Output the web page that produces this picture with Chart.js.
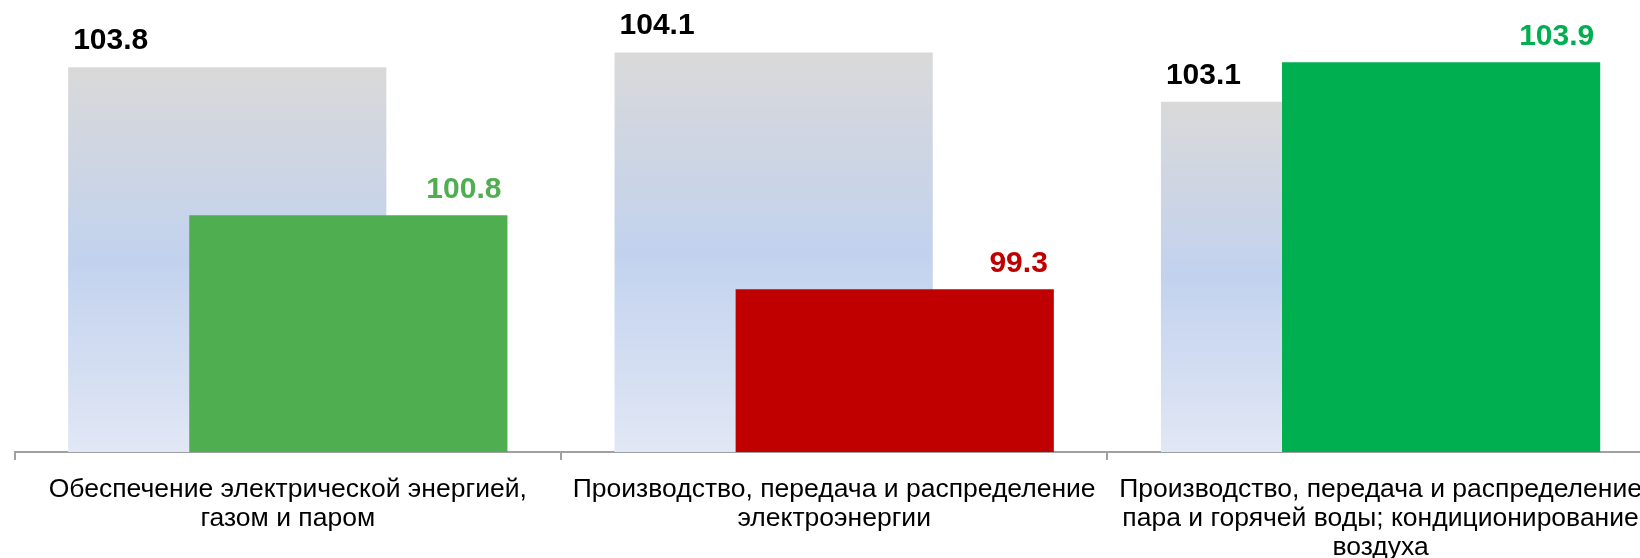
<!DOCTYPE html>
<html>
<head>
<meta charset="utf-8">
<script src="https://cdn.jsdelivr.net/npm/chart.js@4/dist/chart.umd.min.js"></script>
<style>
  html, body { margin: 0; padding: 0; background: #ffffff; overflow: hidden; }
  #wrap { position: absolute; left: 0; top: 0; width: 1657px; height: 558px; }
</style>
</head>
<body>
<div id="wrap"><canvas id="c"></canvas></div>
<script>
const categories = [
  ['Обеспечение электрической энергией,', 'газом и паром'],
  ['Производство, передача и распределение', 'электроэнергии'],
  ['Производство, передача и распределение', 'пара и горячей воды; кондиционирование', 'воздуха']
];
const baseValues = [103.8, 104.1, 103.1];
const currentValues = [100.8, 99.3, 103.9];
const currentColors = ['#4FAE50', '#C00000', '#00B050'];
const yMin = 96;
const yMax = 105;

const grayGradient = (c) => {
  const chart = c.chart;
  const area = chart.chartArea;
  if (!area || c.type !== 'data' || !c.parsed) return '#CFD8EA';
  const top = chart.scales.y.getPixelForValue(c.parsed.y);
  const g = chart.ctx.createLinearGradient(0, top, 0, area.bottom);
  g.addColorStop(0, '#D9D9D9');
  g.addColorStop(0.5, '#C2D2EE');
  g.addColorStop(1, '#E1E7F5');
  return g;
};

const layerPlugin = {
  id: 'layerAndLabels',
  beforeDatasetDraw(chart, args) {
    if (args.index === 1) return false;
  },
  afterDatasetsDraw(chart) {
    const ctx = chart.ctx;
    const area = chart.chartArea;
    const front = chart.getDatasetMeta(1);
    ctx.save();
    ctx.beginPath();
    ctx.rect(area.left, area.top - 20, area.right - area.left, area.bottom - area.top + 20);
    ctx.clip();
    front.controller.draw();
    ctx.restore();
    ctx.save();
    ctx.font = 'bold 30px "Liberation Sans", Arial, sans-serif';
    ctx.textBaseline = 'alphabetic';
    chart.getDatasetMeta(0).data.forEach((el, i) => {
      ctx.fillStyle = '#000000';
      ctx.textAlign = 'left';
      ctx.fillText(baseValues[i].toFixed(1), el.x - el.width / 2 + 5, el.y - 18);
    });
    front.data.forEach((el, i) => {
      ctx.fillStyle = currentColors[i];
      ctx.textAlign = 'right';
      ctx.fillText(currentValues[i].toFixed(1), el.x + el.width / 2 - 6, el.y - 17);
    });
    ctx.restore();
  }
};

new Chart(document.getElementById('c'), {
  type: 'bar',
  data: {
    labels: categories,
    datasets: [
      {
        label: 'База',
        data: baseValues,
        base: yMin,
        backgroundColor: grayGradient,
        borderWidth: 0,
        categoryPercentage: 0.4432,
        barPercentage: 2.628
      },
      {
        label: 'Текущий',
        data: currentValues,
        base: yMin,
        backgroundColor: currentColors,
        borderWidth: 0,
        categoryPercentage: 0.4432,
        barPercentage: 2.628
      }
    ]
  },
  options: {
    responsive: true,
    maintainAspectRatio: false,
    animation: false,
    layout: { padding: { left: 14.6, right: 0, top: 8, bottom: 0 } },
    plugins: {
      legend: { display: false },
      tooltip: { enabled: false }
    },
    scales: {
      y: {
        display: false,
        min: yMin,
        max: yMax
      },
      x: {
        offset: true,
        afterFit: (scale) => { scale.height = 106; },
        border: { display: true, color: '#A0A0A0', width: 2 },
        grid: {
          display: true,
          offset: true,
          drawOnChartArea: false,
          drawTicks: true,
          tickLength: 8,
          color: '#A0A0A0',
          lineWidth: 2
        },
        ticks: {
          color: '#000000',
          font: { family: '"Liberation Sans", Arial, sans-serif', size: 26.5, lineHeight: 1.1 },
          padding: 15,
          maxRotation: 0,
          autoSkip: false
        }
      }
    }
  },
  plugins: [layerPlugin]
});
</script>
</body>
</html>
